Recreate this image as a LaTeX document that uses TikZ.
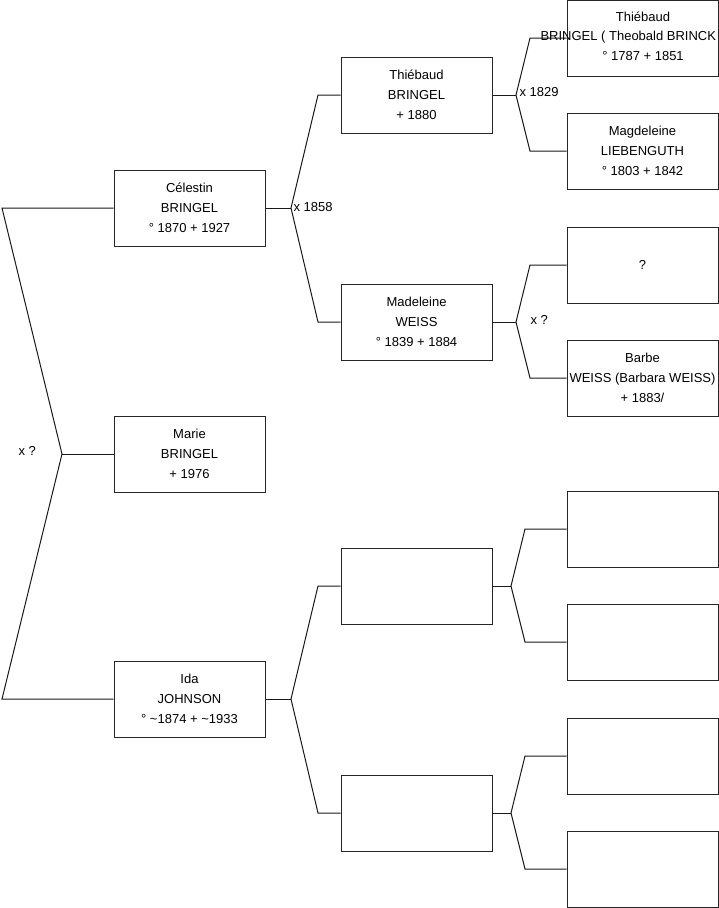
\documentclass[tikz,border=0pt]{standalone}
\usepackage{fontspec}
\setmainfont{Liberation Sans}
\begin{document}
\begin{tikzpicture}[x=1pt,y=-1pt,
  line width=1pt,
  person/.style={draw=black!85, minimum width=151pt, minimum height=76pt, inner sep=0pt, align=center, font=\fontsize{13}{20}\selectfont},
  txt/.style={inner sep=0pt, align=center, font=\fontsize{13}{20}\selectfont},
  lbl/.style={inner sep=0pt, anchor=west, font=\fontsize{13}{15}\selectfont},
  conn/.style={draw=black!90}]
\useasboundingbox (0,0) rectangle (719,908);
% level 1
\node[person] (cel) at (189.5,208) {Célestin\\BRINGEL\\° 1870 + 1927};
\node[person] (mar) at (189.5,454) {Marie\\BRINGEL\\+ 1976};
\node[person] (ida) at (189.5,699) {Ida\\JOHNSON\\° \textasciitilde1874 + \textasciitilde1933};
% level 2
\node[person] (thi) at (416.5,95) {Thiébaud\\BRINGEL\\+ 1880};
\node[person] (mad) at (416.5,322) {Madeleine\\WEISS\\° 1839 + 1884};
\node[person] (b1) at (416.5,586) {};
\node[person] (b2) at (416.5,813) {};
% level 3
\node[person] (t3) at (642.5,38) {};
\node[txt] (t3a) at (643,17) {Thiébaud};
\node[txt, anchor=west] (t3b) at (540,37) {BRINGEL ( Theobald BRINCK};
\node[txt] (t3c) at (643,56) {° 1787 + 1851};
\node[person] (mag) at (642.5,151) {Magdeleine\\LIEBENGUTH\\° 1803 + 1842};
\node[person] (unk) at (642.5,265) {?};
\node[person] (bar) at (642.5,378) {Barbe\\WEISS (Barbara WEISS)\\+ 1883/};
\node[person] (c1) at (642.5,529) {};
\node[person] (c2) at (642.5,642) {};
\node[person] (c3) at (642.5,756) {};
\node[person] (c4) at (642.5,869) {};
% fork points
\coordinate (f0) at (62,454);
\coordinate (f1) at (291,208);
\coordinate (f2) at (291,699);
\coordinate (f3) at (516,95);
\coordinate (f4) at (516,322);
\coordinate (f5) at (511,586);
\coordinate (f6) at (511,813);
% connectors
\draw[conn] (cel.west) -- (2,208) -- (f0) -- (2,699) -- (ida.west);
\draw[conn] (f0) -- (mar.west);
\draw[conn] (thi.west) -- (318,95) -- (f1) -- (318,322) -- (mad.west);
\draw[conn] (cel.east) -- (f1);
\draw[conn] (b1.west) -- (318,586) -- (f2) -- (318,813) -- (b2.west);
\draw[conn] (ida.east) -- (f2);
\draw[conn] (t3.west) -- (530,38) -- (f3) -- (530,151) -- (mag.west);
\draw[conn] (thi.east) -- (f3);
\draw[conn] (unk.west) -- (530,265) -- (f4) -- (530,378) -- (bar.west);
\draw[conn] (mad.east) -- (f4);
\draw[conn] (c1.west) -- (525,529) -- (f5) -- (525,642) -- (c2.west);
\draw[conn] (b1.east) -- (f5);
\draw[conn] (c3.west) -- (525,756) -- (f6) -- (525,869) -- (c4.west);
\draw[conn] (b2.east) -- (f6);
% marriage labels
\node[lbl] (m0) at (18,451) {x ?};
\node[lbl] (m1) at (293,207) {x 1858};
\node[lbl] (m2) at (519,92) {x 1829};
\node[lbl] (m3) at (530,320) {x ?};
\end{tikzpicture}
\end{document}
